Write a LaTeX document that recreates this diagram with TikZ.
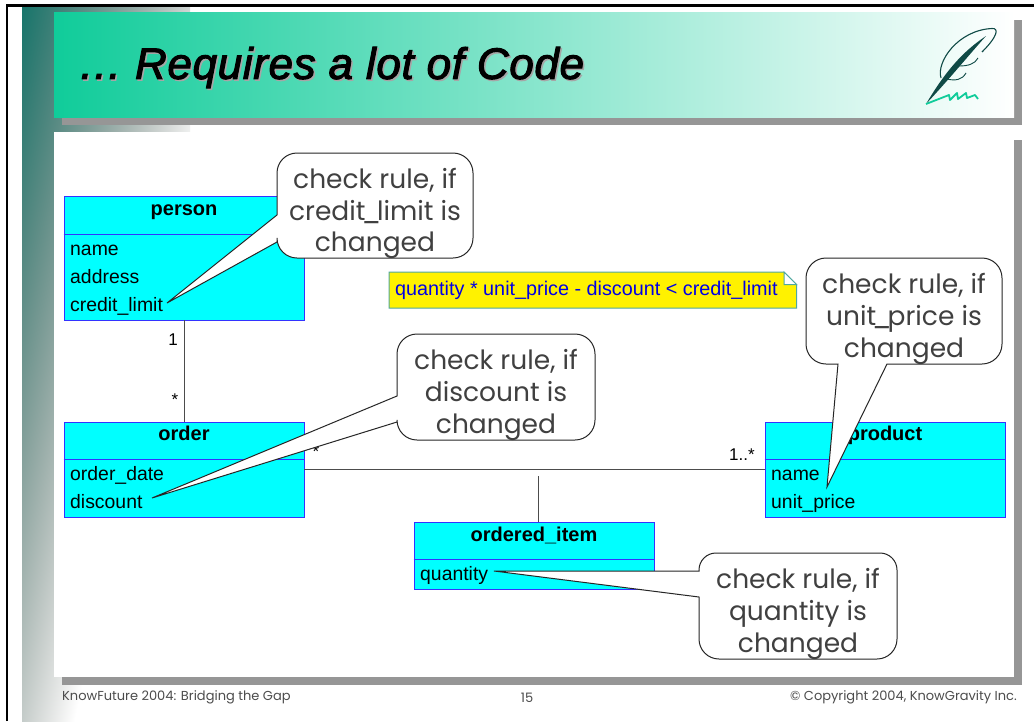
\documentclass[tikz,border=0pt]{standalone}
\usepackage{fontspec}
\setmainfont{Liberation Sans}
\newfontfamily\bubblefont{Poppins}
\newfontfamily\titlefont[FakeBold=2.4,LetterSpace=1.5]{Liberation Sans Italic}
\newcommand{\tightus}{\kern-4pt\_\kern-4pt}
\pgfdeclarefunctionalshading{barfade}{\pgfpoint{-50bp}{-50bp}}{\pgfpoint{50bp}{50bp}}{}{
  25 exch sub 0.015 mul exch 25 add 0.016 mul add
  dup 1 gt {pop 1} if
  dup 0.91 mul 0.09 add exch dup dup 0.34 mul 0.2 add mul 0.46 add exch dup 0.34 mul 0.24 add mul 0.42 add
}
\definecolor{headgreen}{HTML}{10CC9A}
\definecolor{headmid}{HTML}{B8E8D4}
\definecolor{shadowgrey}{HTML}{969696}
\definecolor{classcyan}{HTML}{00FFFF}
\definecolor{classblue}{HTML}{3333FF}
\definecolor{noteteal}{HTML}{4FA8A0}
\definecolor{quilldark}{HTML}{0F4A46}
\tikzset{
  classbox/.style={draw=classblue,fill=classcyan,line width=.9pt,minimum width=240pt,inner sep=0pt},
  classname/.style={font=\fontsize{20}{20}\selectfont\bfseries,anchor=base,inner sep=0pt},
  attr/.style={font=\fontsize{19.4}{19.4}\selectfont,anchor=base west,inner sep=0pt},
  assoc/.style={draw=black!70,line width=1pt},
  multi/.style={font=\fontsize{17}{17}\selectfont,inner sep=0pt},
  bubble/.style={draw=black!85,fill=white,line width=1pt},
  bubbletext/.style={font=\bubblefont\fontsize{26.5}{31.7}\selectfont,align=center,text=black!75,inner sep=0pt},
  foot/.style={font=\bubblefont\fontsize{13}{13}\selectfont,text=black!70,inner sep=0pt}
}
\begin{document}
\begin{tikzpicture}[x=1pt,y=-1pt]
	\useasboundingbox (0,0) rectangle (1034,721);
	% slide background
	\fill[white] (0,0) rectangle (1034,721);
	\shade[shading=barfade] (22,7) rectangle (190,721);
	\draw[line width=2.6pt] (7,721)--(7,5.4)--(1034,5.4);
	\fill[shadowgrey] (62,20) rectangle (1022,124.5);
	\shade[left color=headgreen,middle color=headmid,right color=white] (54,12) rectangle (1014,117);
	\fill[shadowgrey] (62,140) rectangle (1022,685);
	\fill[white] (54,132) rectangle (1014,677);
	\node[font=\titlefont\fontsize{44}{44}\selectfont,text=black!35,anchor=west,inner sep=0pt] (titleshadow) at (79.5,69) {\dots\ Requires a lot of Code};
	\node[font=\titlefont\fontsize{44}{44}\selectfont,anchor=west,inner sep=0pt] (title) at (78,67.5) {\dots\ Requires a lot of Code};
	% quill
	\fill[quilldark] (926,104) .. controls (945,72) and (962,52) .. (986,36) .. controls (968,56) and (952,76) .. (926,104);
	\draw[quilldark,line width=1.1pt] (941,78) .. controls (936,62) and (958,30) .. (992,28.5) .. controls (999,28) and (998,36) .. (982,52);
	\draw[quilldark,line width=.9pt] (959,66) .. controls (968,66) and (975,64) .. (978,58);
	\draw[quilldark,line width=.9pt] (947,79) .. controls (955,81) and (962,80) .. (966,73);
	\draw[headgreen,line width=1.8pt,line join=round] (926,104)--(949,95)--(950,100)--(957,93)--(958,99)--(966,93)--(967,98)--(975,95)--(978,99);
	% connectors
	\node[classbox,minimum height=124pt] (person) at (184,258) {};
	\node[classbox,minimum height=95pt] (order) at (184,469.5) {};
	\node[classbox,minimum height=95pt] (product) at (885,469.5) {};
	\node[classbox,minimum height=67pt] (item) at (534,555.5) {};
	\coordinate (stemtop) at (538,476);
	\draw[assoc] (person)--(order);
	\draw[assoc] (order)--(product);
	\draw[assoc] (stemtop)--(stemtop|-item.north);
	\node[multi] (personend) at (173,340) {1};
	\node[multi] (orderend) at (175,400) {*};
	\node[multi] (linkorder) at (316,452) {*};
	\node[multi] (linkproduct) at (742,455) {1..*};
	% classes
	\draw[classbox] (person.west|-0,234)--(person.east|-0,234);
	\draw[classbox] (order.west|-0,459)--(order.east|-0,459);
	\draw[classbox] (product.west|-0,459)--(product.east|-0,459);
	\draw[classbox] (item.west|-0,559)--(item.east|-0,559);
	\node[classname] (personname) at (184,215) {person};
	\node[attr] (pname) at (70,255) {name};
	\node[attr] (paddress) at (70,283.5) {address};
	\node[attr] (plimit) at (70,311.5) {credit\_limit};
	\node[classname] (ordername) at (184,440.5) {order};
	\node[attr] (odate) at (70,480.5) {order\_date};
	\node[attr] (odiscount) at (70,508.5) {discount};
	\node[classname] (productname) at (885,440.5) {product};
	\node[attr] (prname) at (771,480.5) {name};
	\node[attr] (prprice) at (771,508.5) {unit\_price};
	\node[classname] (itemname) at (534,541) {ordered\_item};
	\node[attr] (iquantity) at (420,580) {quantity};
	% constraint note
	\draw[draw=noteteal,fill=yellow,line width=1pt] (389,272)--(784,272)--(796.5,284.5)--(796.5,308)--(389,308)--cycle;
	\draw[draw=noteteal,fill=white,line width=1pt] (784,272)--(796.5,284.5)--(784,284.5)--cycle;
	\node[attr,font=\fontsize{19.8}{19.8}\selectfont,text=blue!90!black] (rule) at (395,295) {quantity * unit\_price - discount < credit\_limit};
	% callouts
	\draw[bubble] (277,215)[rounded corners=20pt]|-(473,153)|-(277,258)[sharp corners]--(277,242)--(167,303)--cycle;
	\node[bubbletext] (creditnote) at (375,213.5) {check rule, if\\credit\tightus limit is\\changed};
	\draw[bubble] (397,396)[rounded corners=20pt]|-(595,334)|-(397,440)[sharp corners]--(397,422)--(152,498)--cycle;
	\node[bubbletext] (discountnote) at (496,395) {check rule, if\\discount is\\changed};
	\draw[bubble] (838,364)[rounded corners=20pt]-|(806,258)-|(1002,364)[sharp corners]--(887,364)--(827,487)--cycle;
	\node[bubbletext] (pricenote) at (904,319) {check rule, if\\unit\tightus price is\\changed};
	\draw[bubble] (699,571)[rounded corners=17pt]|-(897,553)[rounded corners=20pt]|-(699,659)[sharp corners]--(699,597)--(494,571)--cycle;
	\node[bubbletext] (quantitynote) at (798,614) {check rule, if\\quantity is\\changed};
	% footer
	\node[foot,anchor=west] (footleft) at (62,697) {KnowFuture 2004: Bridging the Gap};
	\node[foot] (footpage) at (527,698) {15};
	\node[foot,anchor=east] (footright) at (1017,697) {© Copyright 2004, KnowGravity Inc.};
\end{tikzpicture}
\end{document}
